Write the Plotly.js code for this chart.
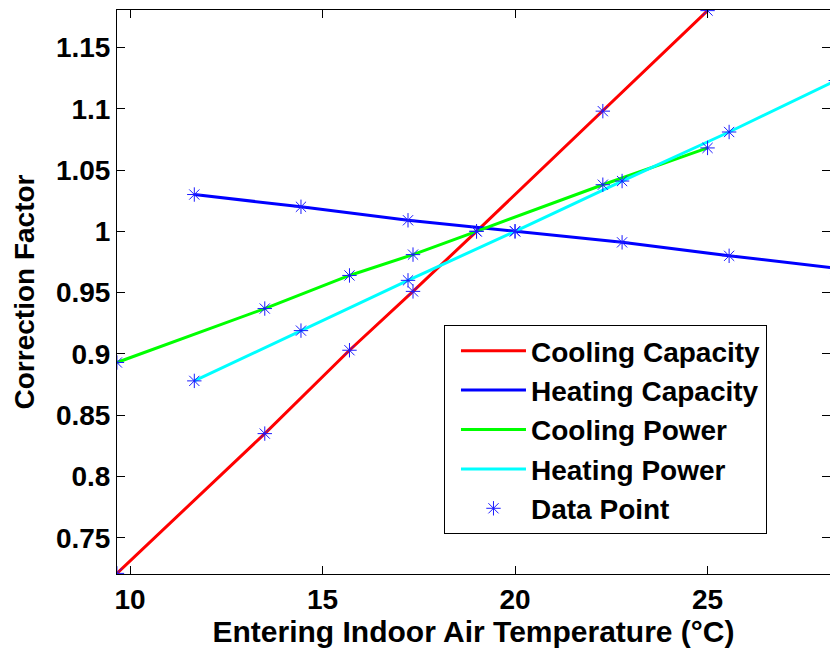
<!DOCTYPE html>
<html>
<head>
<meta charset="utf-8">
<script src="https://cdn.plot.ly/plotly-3.0.1.min.js"></script>
<style>html,body{margin:0;padding:0;background:#fff;}#chart{width:830px;height:648px;}</style>
</head>
<body>
<div id="chart"></div>
<script>
// Cooling series (x = entering indoor air temperature, °C)
var coolingTemp = [9.66, 13.5, 15.7, 17.35, 19.0, 22.28, 25.0];
var coolingCapacity = [0.721, 0.835, 0.903, 0.951, 1.0, 1.098, 1.180];
var coolingPower = [0.893, 0.937, 0.964, 0.981, 1.0, 1.038, 1.068];
// Heating series
var heatingTemp = [11.67, 14.44, 17.22, 20.0, 22.78, 25.56, 28.33];
var heatingCapacity = [1.030, 1.020, 1.009, 1.0, 0.991, 0.980, 0.970];
var heatingPower = [0.878, 0.919, 0.960, 1.0, 1.041, 1.081, 1.123];

var seriesNames = ['Cooling Capacity', 'Heating Capacity', 'Cooling Power', 'Heating Power', 'Data Point'];
var xTitle = 'Entering Indoor Air Temperature (°C)';
var yTitle = 'Correction Factor';

var fontFam = 'Liberation Sans, Arial, Helvetica, sans-serif';
var lw = 3;

var traces = [
  {x: coolingTemp, y: coolingCapacity, mode: 'lines', name: seriesNames[0], line: {color: '#ff0000', width: lw}},
  {x: heatingTemp, y: heatingCapacity, mode: 'lines', name: seriesNames[1], line: {color: '#0000ff', width: lw}},
  {x: coolingTemp, y: coolingPower, mode: 'lines', name: seriesNames[2], line: {color: '#00ff00', width: lw}},
  {x: heatingTemp, y: heatingPower, mode: 'lines', name: seriesNames[3], line: {color: '#00ffff', width: lw}},
  {
    x: coolingTemp.concat(coolingTemp, heatingTemp, heatingTemp),
    y: coolingCapacity.concat(coolingPower, heatingCapacity, heatingPower),
    mode: 'markers', name: seriesNames[4],
    marker: {symbol: 'asterisk-open', size: 12, color: '#1a1aff', line: {color: '#1a1aff', width: 1}}
  }
];

var axisCommon = {
  showgrid: false, zeroline: false,
  showline: true, linecolor: '#000', linewidth: 1, mirror: 'ticks',
  ticks: 'inside', ticklen: 8, tickwidth: 1, tickcolor: '#000',
  tickfont: {family: fontFam, size: 28, color: '#000', weight: 'bold'}
};

var layout = {
  width: 830, height: 648,
  margin: {l: 117, r: 0, t: 10, b: 74},
  paper_bgcolor: '#fff', plot_bgcolor: '#fff',
  font: {family: fontFam, color: '#000'},
  xaxis: Object.assign({}, axisCommon, {
    range: [9.662, 28.18], dtick: 5, tick0: 0,
    title: {text: xTitle, font: {family: fontFam, size: 30, color: '#000', weight: 'bold'}, standoff: 3}
  }),
  yaxis: Object.assign({}, axisCommon, {
    range: [0.7205, 1.1805], dtick: 0.05, tick0: 0,
    title: {text: yTitle, font: {family: fontFam, size: 28, color: '#000', weight: 'bold'}, standoff: 13}
  }),
  showlegend: true,
  legend: {
    x: 0.4586, y: 0.4415, xanchor: 'left', yanchor: 'top',
    bgcolor: '#fff', bordercolor: '#000', borderwidth: 1,
    font: {family: fontFam, size: 28, color: '#000', weight: 'bold'},
    itemwidth: 65, indentation: 11
  }
};

Plotly.newPlot('chart', traces, layout, {displayModeBar: false, staticPlot: true});
</script>
</body>
</html>
